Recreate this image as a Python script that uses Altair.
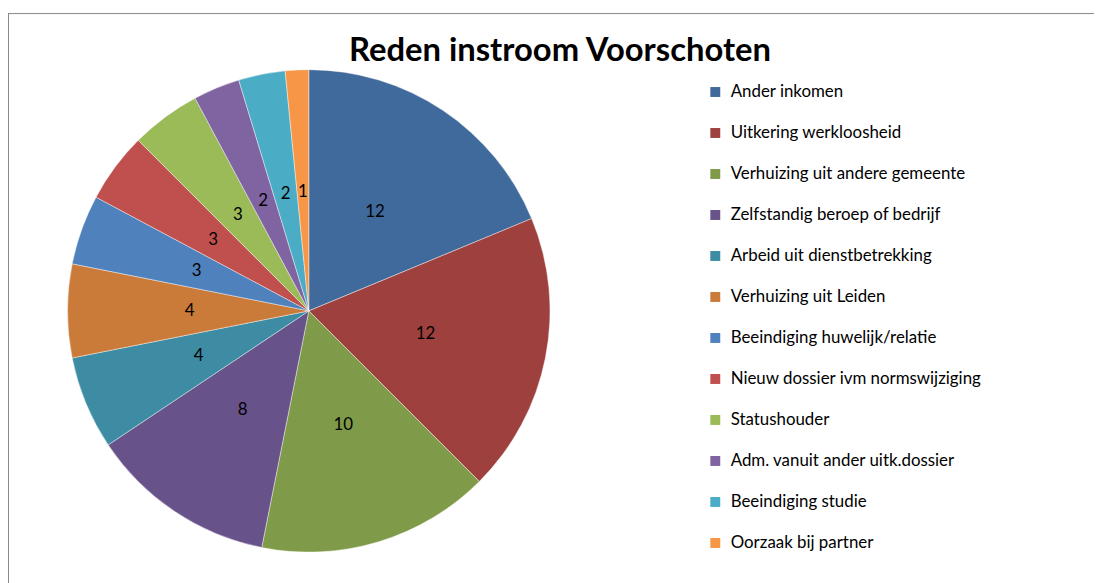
import altair as alt
import pandas as pd

title_text = ["Reden instroom Voorschoten"]
cats = [
    "Ander inkomen",
    "Uitkering werkloosheid",
    "Verhuizing uit andere gemeente",
    "Zelfstandig beroep of bedrijf",
    "Arbeid uit dienstbetrekking",
    "Verhuizing uit Leiden",
    "Beeindiging huwelijk/relatie",
    "Nieuw dossier ivm normswijziging",
    "Statushouder",
    "Adm. vanuit ander uitk.dossier",
    "Beeindiging studie",
    "Oorzaak bij partner",
]
vals = [12, 12, 10, 8, 4, 4, 3, 3, 3, 2, 2, 1]
colors = [
    "#416A9C", "#9E403E", "#7F9A48", "#68528A", "#3D8CA3", "#CB7B39",
    "#4F81BD", "#C0504D", "#9BBB59", "#8064A2", "#4BACC6", "#F79646",
]

df = pd.DataFrame({"cat": cats, "val": vals, "idx": list(range(len(cats)))})

W, H = 1094, 572
CX, CY = 303, 300
R = 243
FONT = "Lato"

base = alt.Chart(df).encode(
    theta=alt.Theta("val:Q", stack=True),
    order=alt.Order("idx:Q"),
)

arcs = base.mark_arc(outerRadius=R, stroke="#ffffff", strokeWidth=0.6, strokeOpacity=0.7).encode(
    color=alt.Color(
        "cat:N",
        scale=alt.Scale(domain=cats, range=colors),
        sort=cats,
        legend=alt.Legend(
            title=None,
            orient="none",
            legendX=704,
            legendY=71,
            symbolType="square",
            symbolSize=100,
            symbolStrokeWidth=0,
            labelFont=FONT,
            labelFontSize=17,
            labelColor="#000000",
            labelOffset=7,
            rowPadding=23.3,
            labelLimit=400,
        ),
    ),
    x=alt.value(CX),
    y=alt.value(CY),
)

labels = base.mark_text(radius=120, font=FONT, fontSize=17, color="#000000").encode(
    text="val:Q",
    x=alt.value(CX),
    y=alt.value(CY),
)

title_df = pd.DataFrame({"t": title_text})
title = alt.Chart(title_df).mark_text(
    font=FONT, fontSize=33, fontWeight="bold", color="#000000", baseline="alphabetic"
).encode(text="t:N", x=alt.value(556), y=alt.value(48))

border_top = alt.Chart(title_df).mark_rule(color="#878787", strokeWidth=1).encode(
    x=alt.value(0), x2=alt.value(W + 10), y=alt.value(0.5)
)
border_left = alt.Chart(title_df).mark_rule(color="#878787", strokeWidth=1).encode(
    x=alt.value(0.5), y=alt.value(0), y2=alt.value(H + 10)
)

chart = alt.layer(border_top, border_left, arcs, labels, title).properties(
    width=W,
    height=H,
    padding={"left": 0, "top": 3, "right": 0, "bottom": 0},
    autosize=alt.AutoSizeParams(type="none"),
    background="#ffffff",
).configure_view(strokeWidth=0)

chart.save("out.html", embed_options={"renderer": "svg", "actions": False})
